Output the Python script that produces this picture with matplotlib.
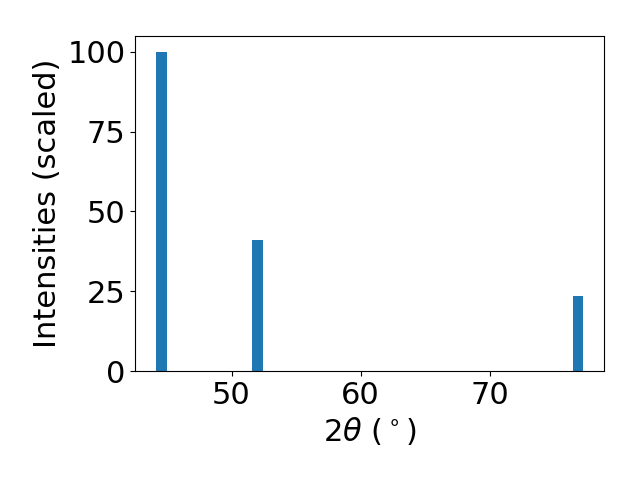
import matplotlib
matplotlib.use("Agg")
import matplotlib.pyplot as plt

# peak positions (2theta, deg) and scaled intensities
two_theta = [44.58, 52.02, 76.80]
intensity = [100.0, 41.0, 23.5]

fig, ax = plt.subplots(figsize=(6.4, 4.8), dpi=100)
ax.bar(two_theta, intensity, width=0.8, color="#1f77b4")
ax.set_xlabel(r"$2\theta$ ($^\circ$)", fontsize=22)
ax.set_ylabel("Intensities (scaled)", fontsize=22)
ax.tick_params(labelsize=22)
ax.set_yticks([0, 25, 50, 75, 100])
fig.subplots_adjust(left=0.211, right=0.944, top=0.925, bottom=0.227)
fig.savefig("out.png")
